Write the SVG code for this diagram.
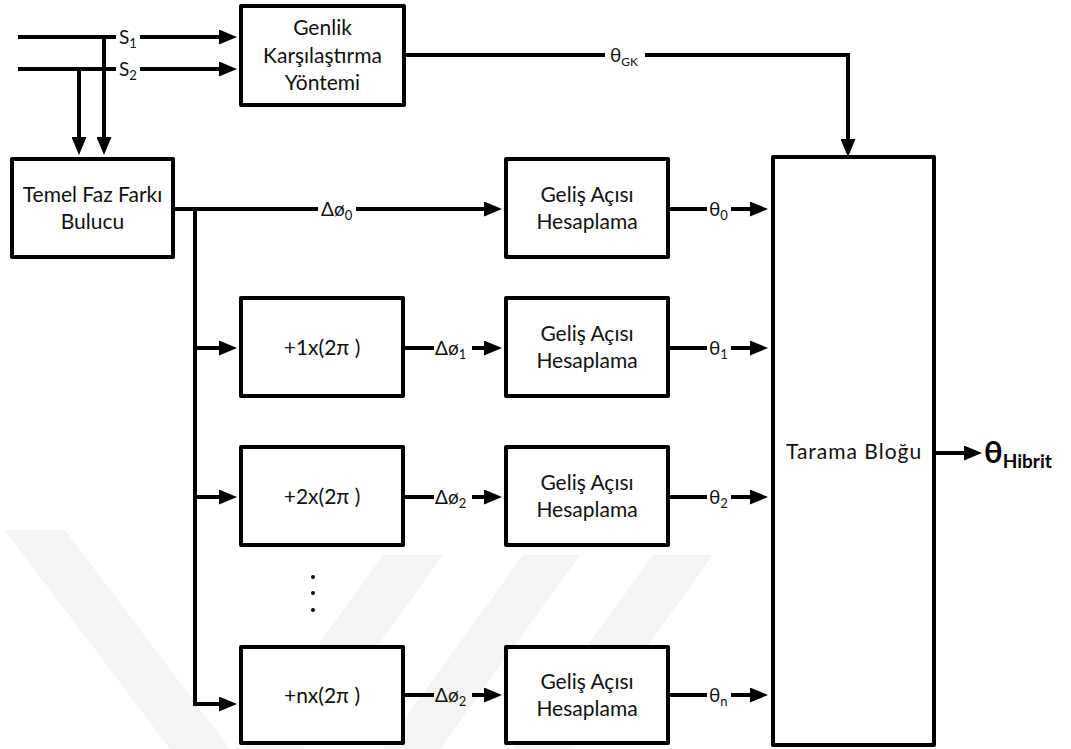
<svg xmlns="http://www.w3.org/2000/svg" width="1071" height="749" viewBox="0 0 1071 749">
<defs>
<style>
.bx{fill:#fff;stroke:#000;stroke-width:4;stroke-linejoin:round}
.ln{fill:none;stroke:#000;stroke-width:4}
.ar{fill:none;stroke:#000;stroke-width:4;marker-end:url(#ah)}
.t{font-family:Lato,"DejaVu Sans",sans-serif;font-size:21px;fill:#111;text-anchor:middle}
.lb{font-family:Lato,"DejaVu Sans",sans-serif;font-size:19px;fill:#111}
.wm{fill:#f4f4f4}
</style>
<marker id="ah" markerUnits="userSpaceOnUse" markerWidth="18" markerHeight="15" refX="9" refY="7.5" orient="auto">
<path d="M0,0 L18,7.5 L0,15 z" fill="#000"/>
</marker>
</defs>
<rect width="1071" height="749" fill="#fff"/>
<g id="watermark">
<polygon class="wm" points="5,530 65,530 230,749 170,749"/>
<polygon class="wm" points="383,555 443,555 303,749 243,749"/>
<polygon class="wm" points="523,555 580,555 440,749 383,749"/>
<polygon class="wm" points="653,555 713,555 573,749 513,749"/>
</g>
<g id="connectors">
<path class="ln" d="M18,37 H116 M18,69 H116"/>
<path class="ar" d="M140,37 H228"/>
<path class="ar" d="M140,69 H228"/>
<path class="ar" d="M104,37 V146"/>
<path class="ar" d="M79,69 V146"/>
<path class="ln" d="M404,55 H605"/>
<path class="ar" d="M645,55 H848 V148"/>
<path class="ln" d="M173,209 H318"/>
<path class="ar" d="M356,209 H493"/>
<path class="ar" d="M195,209 V704 H228"/>
<path class="ar" d="M195,348 H228"/>
<path class="ar" d="M195,497 H228"/>
<path class="ln" d="M403,348 H434 M403,497 H434 M403,695 H434"/>
<path class="ar" d="M472,348 H493"/>
<path class="ar" d="M472,497 H493"/>
<path class="ar" d="M472,695 H493"/>
<path class="ln" d="M668,209 H707 M668,348 H707 M668,497 H707 M668,695 H707"/>
<path class="ar" d="M731,209 H759"/>
<path class="ar" d="M731,348 H759"/>
<path class="ar" d="M731,497 H759"/>
<path class="ar" d="M731,695 H759"/>
<path class="ar" d="M934,453 H973"/>
</g>
<g id="labels">
<text class="lb" x="119" y="44">S<tspan font-size="13" dy="4">1</tspan></text>
<text class="lb" x="119" y="76">S<tspan font-size="13" dy="4">2</tspan></text>
<text class="lb" x="610" y="62">θ<tspan font-size="12" dy="4">GK</tspan></text>
<text class="lb" x="321" y="216">Δø<tspan font-size="13" dy="4">0</tspan></text>
<text class="lb" x="435" y="355">Δø<tspan font-size="13" dy="4">1</tspan></text>
<text class="lb" x="435" y="504">Δø<tspan font-size="13" dy="4">2</tspan></text>
<text class="lb" x="435" y="702">Δø<tspan font-size="13" dy="4">2</tspan></text>
<text class="lb" x="709" y="216">θ<tspan font-size="13" dy="4">0</tspan></text>
<text class="lb" x="709" y="355">θ<tspan font-size="13" dy="4">1</tspan></text>
<text class="lb" x="709" y="504">θ<tspan font-size="13" dy="4">2</tspan></text>
<text class="lb" x="709" y="702">θ<tspan font-size="13" dy="4">n</tspan></text>
<text x="984" y="463" style="font-family:Lato,'DejaVu Sans',sans-serif;font-weight:bold;font-size:31px;fill:#000">θ<tspan font-size="19" dy="5">Hibrit</tspan></text>
<g fill="#000"><circle cx="313" cy="577" r="2"/><circle cx="313" cy="593" r="2"/><circle cx="313" cy="610" r="2"/></g>
</g>
<g id="genlik"><rect class="bx" x="241" y="6" width="163" height="99"/>
<text class="t" x="322.5" y="35">Genlik</text><text class="t" x="322.5" y="63">Karşılaştırma</text><text class="t" x="322.5" y="90">Yöntemi</text></g>
<g id="temel"><rect class="bx" x="12" y="159" width="161" height="98"/>
<text class="t" x="92.5" y="202">Temel Faz Farkı</text><text class="t" x="92.5" y="229">Bulucu</text></g>
<g id="gelis0"><rect class="bx" x="506" y="159" width="162" height="98"/>
<text class="t" x="587" y="202">Geliş Açısı</text><text class="t" x="587" y="229">Hesaplama</text></g>
<g id="plus1"><rect class="bx" x="241" y="298" width="162" height="98"/>
<text class="t" x="322" y="355">+1x(2π )</text></g>
<g id="gelis1"><rect class="bx" x="506" y="298" width="162" height="98"/>
<text class="t" x="587" y="341">Geliş Açısı</text><text class="t" x="587" y="368">Hesaplama</text></g>
<g id="plus2"><rect class="bx" x="241" y="447" width="162" height="98"/>
<text class="t" x="322" y="504">+2x(2π )</text></g>
<g id="gelis2"><rect class="bx" x="506" y="447" width="162" height="98"/>
<text class="t" x="587" y="490">Geliş Açısı</text><text class="t" x="587" y="517">Hesaplama</text></g>
<g id="plusn"><rect class="bx" x="241" y="647" width="162" height="96"/>
<text class="t" x="322" y="703">+nx(2π )</text></g>
<g id="gelisn"><rect class="bx" x="506" y="647" width="162" height="96"/>
<text class="t" x="587" y="689">Geliş Açısı</text><text class="t" x="587" y="716">Hesaplama</text></g>
<g id="tarama"><rect class="bx" x="773" y="157" width="161" height="588"/>
<text class="t" x="854" y="459" font-size="19" letter-spacing="1">Tarama Bloğu</text></g>
</svg>
